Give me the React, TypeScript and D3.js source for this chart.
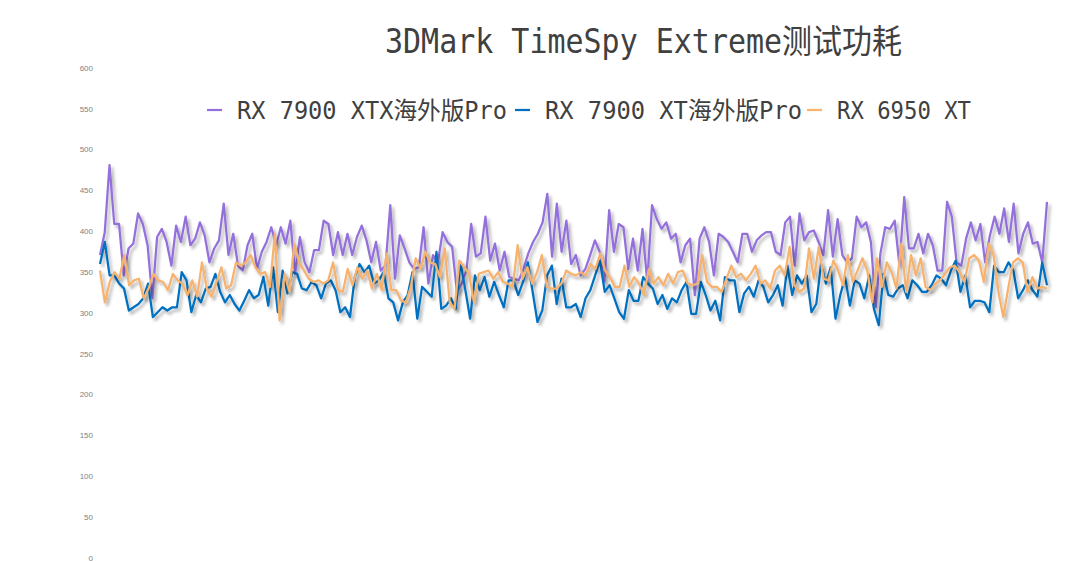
import React from "react";
import * as d3 from "d3";

const title = "3DMark TimeSpy Extreme测试功耗";
const seriesNames = ["RX 7900 XTX海外版Pro", "RX 7900 XT海外版Pro", "RX 6950 XT"];
const seriesColors = ["#9370DB", "#0070C0", "#F7B26E"];
const yTicks = [0, 50, 100, 150, 200, 250, 300, 350, 400, 450, 500, 550, 600];

const xtx = [
  371,399,481,409,409,346,379,385,422,409,383,318,393,403,387,358,407,387,418,383,391,411,395,362,379,389,434,371,397,358,352,383,397,
  354,375,387,405,383,405,385,413,348,393,362,350,377,377,413,409,371,399,371,397,371,393,407,389,362,387,352,358,432,342,395,379,362,354,
  356,405,336,371,362,399,387,381,326,336,352,409,369,373,418,364,385,352,375,344,342,340,354,373,387,397,411,446,369,434,375,413,360,371,
  346,354,371,389,375,338,426,375,409,405,354,391,352,403,338,432,415,403,411,391,397,362,383,391,322,391,405,387,346,397,393,387,375,
  362,397,397,375,389,395,399,399,375,371,411,418,358,422,389,399,401,387,371,426,369,415,371,362,367,418,405,411,387,307,373,405,403,413,
  358,442,379,379,397,373,397,383,352,352,436,418,362,358,391,411,389,409,362,395,418,397,428,387,434,373,397,411,385,387,362,436,
];

const xt = [
  360,387,346,346,336,330,303,307,311,318,336,295,301,307,303,307,307,350,340,301,322,313,330,332,348,326,313,322,311,303,315,328,318,
  322,344,309,356,301,352,324,350,348,330,328,338,334,318,336,340,328,301,307,295,344,360,350,358,336,340,350,318,313,291,313,322,350,
  293,332,326,320,375,305,309,318,305,362,328,293,346,328,344,320,338,322,307,340,340,322,338,362,326,289,303,346,358,311,342,307,307,
  311,295,318,328,346,364,326,334,318,301,293,328,315,315,344,336,330,311,322,305,318,313,328,338,299,299,338,322,303,315,291,344,340,
  340,301,324,332,320,340,332,313,322,334,309,358,322,346,336,346,301,311,360,336,356,293,322,344,309,340,336,318,346,305,285,348,322,320,
  330,334,318,340,334,326,326,334,346,342,334,352,364,326,346,307,315,315,313,301,358,350,350,362,352,318,328,340,328,320,362,334,
];

const rx6950 = [
  352,313,338,350,342,371,334,340,342,318,330,348,340,338,328,348,340,336,322,340,320,362,330,320,338,356,330,334,362,358,362,371,356,
  348,350,332,397,291,348,326,385,362,352,342,338,340,336,340,362,328,326,354,334,356,342,352,330,348,328,373,328,328,315,313,332,367,
  354,375,362,360,344,379,313,305,364,356,348,313,348,350,352,342,350,338,336,332,383,342,356,336,350,371,332,330,330,336,352,348,
  346,350,346,360,354,373,352,344,332,332,358,332,344,336,322,354,336,344,334,348,336,350,352,336,334,336,371,338,332,332,326,342,358,
  344,348,340,348,358,336,340,330,352,358,346,381,334,326,330,379,342,381,342,340,364,352,334,371,338,352,367,352,313,367,332,362,350,
  330,385,326,371,346,367,332,328,336,340,348,356,358,350,338,367,371,364,338,385,371,326,295,330,362,367,362,326,344,330,332,330,
];

const allSeries = [xtx, xt, rx6950];

const W = 1080;
const H = 562;
const legendX = [207, 515, 807];
const legendTextLen = [270, 257, 134];

export default function App() {
  const y = d3.scaleLinear().domain([0, 600]).range([558, 68]);
  const font = "'DejaVu Sans Mono', 'Noto Sans CJK SC', monospace";
  return (
    <div style={{ position: "fixed", left: 0, top: 0 }}>
      <svg width={W} height={H} style={{ display: "block", background: "#fff" }}>
        <defs>
          <filter id="shadow" x="-5%" y="-20%" width="110%" height="140%">
            <feDropShadow dx="2.5" dy="3" stdDeviation="1.8" floodColor="#000" floodOpacity="0.3" />
          </filter>
        </defs>
        <rect width={W} height={H} fill="#fff" />
        <text
          x={385}
          y={53}
          textLength={517}
          lengthAdjust="spacingAndGlyphs"
          fontFamily={font}
          fontSize={33}
          fill="#404040"
        >
          {title}
        </text>
        {yTicks.map((t) => (
          <text
            key={t}
            x={93}
            y={y(t)}
            dy="0.35em"
            textAnchor="end"
            fontFamily="'Liberation Sans', Arial, sans-serif"
            fontSize={8}
            fill="#7f7f7f"
          >
            {t}
          </text>
        ))}
        {allSeries.map((data, i) => {
          const x = d3.scaleLinear().domain([0, data.length - 1]).range([100, 1047]);
          const line = d3
            .line<number>()
            .x((_, j) => x(j))
            .y((d) => y(d));
          return (
            <path
              key={i}
              d={line(data) || ""}
              fill="none"
              stroke={seriesColors[i]}
              strokeWidth={2.25}
              strokeLinejoin="round"
              filter="url(#shadow)"
            />
          );
        })}
        {seriesNames.map((name, i) => (
          <g key={name} transform={`translate(${legendX[i]},110)`}>
            <line x1={0} x2={15} y1={0} y2={0} stroke={seriesColors[i]} strokeWidth={2.25} />
            <text
              x={30}
              y={0}
              dy="0.36em"
              textLength={legendTextLen[i]}
              lengthAdjust="spacingAndGlyphs"
              fontFamily={font}
              fontSize={24}
              fill="#404040"
            >
              {name}
            </text>
          </g>
        ))}
      </svg>
    </div>
  );
}
